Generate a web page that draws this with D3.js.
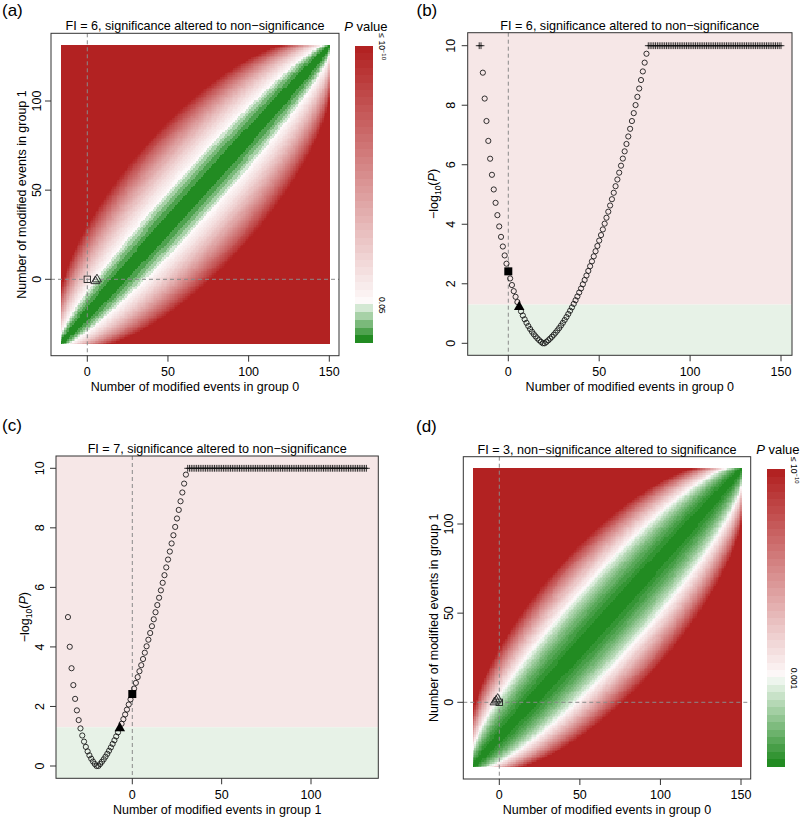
<!DOCTYPE html>
<html><head><meta charset="utf-8">
<script src="https://cdn.jsdelivr.net/npm/d3@7"></script>
<style>body{margin:0;background:#fff} svg{display:block;font-family:"Liberation Sans",Arial,sans-serif}</style>
</head><body><svg id="chart" width="800" height="819"></svg>
<script>
// ---------------- data ----------------
const baseEvents = [16, 36];          // events in group 0, group 1
const groupSizes = [166, 167];        // patients in group 0, group 1
const panelLetters = ["(a)", "(b)", "(c)", "(d)"];
const panelTitles = [
  "FI = 6, significance altered to non\u2212significance",
  "FI = 6, significance altered to non\u2212significance",
  "FI = 7, significance altered to non\u2212significance",
  "FI = 3, non\u2212significance altered to significance"
];
const alphas = [0.05, 0.05, 0.05, 0.001];
const alphaLabels = ["0.05", "0.05", "0.05", "0.001"];
const xTitles = ["Number of modified events in group 0", "Number of modified events in group 0",
                 "Number of modified events in group 1", "Number of modified events in group 0"];
const heatTicksX = [0, 50, 100, 150];
const heatTicksY = [0, 50, 100];
const ticksXB = [0, 50, 100, 150];
const ticksXC = [0, 50, 100];
const logTicks = [0, 2, 4, 6, 8, 10];
const pCap = 10;                                  // -log10(P) shown as <= 10^-10
const heatMarkersA = [[6, 0], [5, -1]];           // open triangles panel (a)
const heatMarkersD = [[-3, 0], [-2, 1], [-1, 2]]; // open triangles panel (d)
const fiPointB = 6, fiPointC = -7;                // filled triangles (b), (c)

// ---------------- Fisher exact test ----------------
const Ntot = groupSizes[0] + groupSizes[1];
const lf = [0]; for (let i = 1; i <= Ntot; i++) lf[i] = lf[i - 1] + Math.log(i);
const lch = (n, k) => lf[n] - lf[k] - lf[n - k];
function fisherP(a, c) {
  const n0 = groupSizes[0], n1 = groupSizes[1], k = a + c;
  const lo = Math.max(0, k - n1), hi = Math.min(n0, k), ln = lch(Ntot, k);
  const lp = x => lch(n0, x) + lch(n1, k - x) - ln;
  const lo_obs = lp(a); let s = 0;
  for (let x = lo; x <= hi; x++) { const l = lp(x); if (l <= lo_obs + 1e-7) s += Math.exp(l); }
  return Math.min(1, s);
}
const negLog = (a, c) => Math.min(pCap, -Math.log10(fisherP(a, c)));

// ---------------- colours ----------------
const RED = "#B22222", GREEN = "#228B22", STEP = 0.25;
const PINK_BG = "rgb(246,231,231)", GREEN_BG = "rgb(231,242,231)";
function heatColor(v, thr) {
  if (v >= thr) {
    const n = Math.round((pCap - thr) / STEP);
    const k = Math.min(n - 1, Math.floor((v - thr) / (pCap - thr) * n));
    return d3.interpolateRgb("#ffffff", RED)((k + 1) / n);
  } else {
    const n = Math.round(thr / STEP);
    const k = Math.min(n - 1, Math.floor((thr - v) / thr * n));
    return d3.interpolateRgb("#ffffff", GREEN)((k + 1) / n);
  }
}

const svg = d3.select("#chart");
const FS = 12.5;

function lin(v0, p0, v1, p1, lo, hi) {
  const s = (p1 - p0) / (v1 - v0);
  const inv = p => v0 + (p - p0) / s;
  return d3.scaleLinear().domain([inv(lo), inv(hi)]).range([lo, hi]);
}

function frame(g, xS, yS, cfg) {
  const [x0, x1] = xS.range(), [y1, y0] = yS.range();
  g.append("rect").attr("x", x0).attr("y", y0).attr("width", x1 - x0).attr("height", y1 - y0)
    .attr("fill", "none").attr("stroke", "#333").attr("stroke-width", 1);
  cfg.xt.forEach(t => {
    g.append("line").attr("x1", xS(t)).attr("x2", xS(t)).attr("y1", y1).attr("y2", y1 + 6).attr("stroke", "#333");
    g.append("text").attr("x", xS(t)).attr("y", y1 + 16).attr("dy", "0.35em").attr("text-anchor", "middle")
      .attr("font-size", FS).text(t);
  });
  cfg.yt.forEach(t => {
    g.append("line").attr("x1", x0 - 6).attr("x2", x0).attr("y1", yS(t)).attr("y2", yS(t)).attr("stroke", "#333");
    g.append("text").attr("transform", `translate(${x0 - cfg.ylo},${yS(t)}) rotate(-90)`)
      .attr("dy", "0.35em").attr("text-anchor", "middle").attr("font-size", FS).text(t);
  });
  g.append("text").attr("x", (x0 + x1) / 2).attr("y", y1 + 31).attr("dy", "0.35em").attr("text-anchor", "middle")
    .attr("font-size", FS).text(cfg.xtitle);
  const yt = g.append("text").attr("transform", `translate(${x0 - cfg.yto},${(y0 + y1) / 2}) rotate(-90)`)
    .attr("dy", "0.35em").attr("text-anchor", "middle").attr("font-size", FS);
  if (cfg.logTitle) {
    yt.append("tspan").text("\u2212log");
    yt.append("tspan").attr("font-size", 8.5).attr("dy", "0.3em").text("10");
    yt.append("tspan").attr("dy", "-0.3em").text("(");
    yt.append("tspan").attr("font-style", "italic").text("P");
    yt.append("tspan").text(")");
  } else yt.text(cfg.ytitle);
  g.append("text").attr("x", (x0 + x1) / 2).attr("y", y0 - 7.5).attr("dy", "0.35em").attr("text-anchor", "middle")
    .attr("font-size", 12.6).text(cfg.title);
}

function heatPanel(idx, xS, yS, cb, markers, lab) {
  const g = svg.append("g");
  const thr = -Math.log10(alphas[idx]);
  const xs = d3.range(-baseEvents[0], groupSizes[0] - baseEvents[0] + 1);
  const ys = d3.range(-baseEvents[1], groupSizes[1] - baseEvents[1] + 1);
  const runs = [];
  ys.forEach(y => {
    let start = xs[0], col = heatColor(negLog(baseEvents[0] + xs[0], baseEvents[1] + y), thr);
    for (let i = 1; i <= xs.length; i++) {
      const c = i < xs.length ? heatColor(negLog(baseEvents[0] + xs[i], baseEvents[1] + y), thr) : null;
      if (c !== col) { runs.push({ a: start, b: xs[i - 1], y, col }); start = xs[i]; col = c; }
    }
  });
  const R = Math.round;
  g.append("g").attr("shape-rendering", "crispEdges").selectAll("rect").data(runs).join("rect")
    .attr("x", d => R(xS(d.a - 0.5))).attr("width", d => R(xS(d.b + 0.5)) - R(xS(d.a - 0.5)))
    .attr("y", d => R(yS(d.y + 0.5))).attr("height", d => R(yS(d.y - 0.5)) - R(yS(d.y + 0.5)))
    .attr("fill", d => d.col);
  const [x0, x1] = xS.range(), [y1, y0] = yS.range();
  g.append("line").attr("x1", xS(0)).attr("x2", xS(0)).attr("y1", y0).attr("y2", y1)
    .attr("stroke", "#8a8a8a").attr("stroke-dasharray", "4,3");
  g.append("line").attr("x1", x0).attr("x2", x1).attr("y1", yS(0)).attr("y2", yS(0))
    .attr("stroke", "#8a8a8a").attr("stroke-dasharray", "4,3");
  g.append("rect").attr("x", xS(0) - 3.2).attr("y", yS(0) - 3.2).attr("width", 6.4).attr("height", 6.4)
    .attr("fill", "none").attr("stroke", "#222").attr("stroke-width", 0.9);
  g.selectAll("path.tri").data(markers).join("path").attr("class", "tri")
    .attr("d", d3.symbol(d3.symbolTriangle, 34)())
    .attr("transform", d => `translate(${xS(d[0])},${yS(d[1])})`)
    .attr("fill", "none").attr("stroke", "#222").attr("stroke-width", 0.9);
  frame(g, xS, yS, { xt: heatTicksX, yt: heatTicksY, ylo: lab.ylo, yto: lab.yto,
    xtitle: xTitles[idx], ytitle: "Number of modified events in group 1", title: panelTitles[idx] });
  // colour bar
  const cS = d3.scaleLinear().domain([0, pCap]).range([cb.y1, cb.y0]);
  const bins = [];
  const nR = Math.round((pCap - thr) / STEP), nG = Math.round(thr / STEP);
  for (let k = 0; k < nR; k++) bins.push({ lo: thr + k * (pCap - thr) / nR, hi: thr + (k + 1) * (pCap - thr) / nR,
    col: d3.interpolateRgb("#ffffff", RED)((k + 1) / nR) });
  for (let k = 0; k < nG; k++) bins.push({ lo: thr - (k + 1) * thr / nG, hi: thr - k * thr / nG,
    col: d3.interpolateRgb("#ffffff", GREEN)((k + 1) / nG) });
  g.append("g").attr("shape-rendering", "crispEdges").selectAll("rect").data(bins).join("rect")
    .attr("x", R(cb.x0)).attr("width", R(cb.x1) - R(cb.x0))
    .attr("y", d => R(cS(d.hi))).attr("height", d => R(cS(d.lo)) - R(cS(d.hi))).attr("fill", d => d.col);
  const pv = g.append("text").attr("x", (cb.x0 + cb.x1) / 2 + 2).attr("y", cb.y0 - 19.5).attr("dy", "0.35em")
    .attr("text-anchor", "middle").attr("font-size", 13);
  pv.append("tspan").attr("font-style", "italic").text("P");
  pv.append("tspan").text(" value");
  const topL = g.append("text").attr("transform", `translate(${cb.x1 + 9},${cS(pCap) + 1}) rotate(90)`)
    .attr("text-anchor", "middle").attr("font-size", 8.5).attr("dy", "0.35em");
  topL.append("tspan").text("\u2264 10");
  topL.append("tspan").attr("font-size", 6).attr("dy", "-0.6em").text("\u221210");
  g.append("text").attr("transform", `translate(${cb.x1 + 9},${cS(thr) + 1}) rotate(90)`)
    .attr("text-anchor", "middle").attr("font-size", 8.5).attr("dy", "0.35em").text(alphaLabels[idx]);
}

function scatterPanel(idx, xS, yS, which, ticksX, fiX, lab) {
  const g = svg.append("g");
  const thr = -Math.log10(alphas[idx]);
  const [x0, x1] = xS.range(), [y1, y0] = yS.range();
  g.append("rect").attr("x", x0).attr("y", y0).attr("width", x1 - x0).attr("height", yS(thr) - y0).attr("fill", PINK_BG);
  g.append("rect").attr("x", x0).attr("y", yS(thr)).attr("width", x1 - x0).attr("height", y1 - yS(thr)).attr("fill", GREEN_BG);
  g.append("line").attr("x1", xS(0)).attr("x2", xS(0)).attr("y1", y0).attr("y2", y1)
    .attr("stroke", "#8a8a8a").attr("stroke-dasharray", "4,3");
  const xs = d3.range(-baseEvents[which], groupSizes[which] - baseEvents[which] + 1);
  const pts = xs.map(x => {
    const raw = which === 0 ? -Math.log10(fisherP(baseEvents[0] + x, baseEvents[1]))
                            : -Math.log10(fisherP(baseEvents[0], baseEvents[1] + x));
    const v = Math.min(pCap, raw);
    const type = x === 0 ? "square" : x === fiX ? "tri" : raw >= pCap ? "plus" : "circle";
    return { x, v, type };
  });
  g.selectAll("circle").data(pts.filter(d => d.type === "circle")).join("circle")
    .attr("cx", d => xS(d.x)).attr("cy", d => yS(d.v)).attr("r", 2.6)
    .attr("fill", "none").attr("stroke", "#111").attr("stroke-width", 0.85);
  g.selectAll("path.plus").data(pts.filter(d => d.type === "plus")).join("path").attr("class", "plus")
    .attr("d", d => `M${xS(d.x) - 3.4},${yS(d.v)}H${xS(d.x) + 3.4}M${xS(d.x)},${yS(d.v) - 3.4}V${yS(d.v) + 3.4}`)
    .attr("stroke", "#111").attr("stroke-width", 0.85);
  pts.filter(d => d.type === "square").forEach(d => g.append("rect").attr("x", xS(d.x) - 4).attr("y", yS(d.v) - 4)
    .attr("width", 8).attr("height", 8).attr("fill", "#000"));
  pts.filter(d => d.type === "tri").forEach(d => g.append("path").attr("d", d3.symbol(d3.symbolTriangle, 48)())
    .attr("transform", `translate(${xS(d.x)},${yS(d.v)})`).attr("fill", "#000"));
  frame(g, xS, yS, { xt: ticksX, yt: logTicks, ylo: lab.ylo, yto: lab.yto, logTitle: true,
    xtitle: xTitles[idx], title: panelTitles[idx] });
}

// panel (a)
heatPanel(0, lin(0, 87.3, 150, 329.3, 51, 339), lin(0, 279.3, 100, 101, 355.7, 33.3),
  { x0: 355, x1: 372.7, y0: 45.7, y1: 343 }, heatMarkersA, { ylo: 14.5, yto: 29.5 });
// panel (b)
scatterPanel(1, lin(0, 508.3, 150, 781, 467.7, 792), lin(0, 343.3, 10, 45.7, 355.3, 32.7), 0, ticksXB, fiPointB,
  { ylo: 17.5, yto: 34 });
// panel (c)
scatterPanel(2, lin(0, 132.3, 100, 311, 56, 378.3), lin(0, 766, 10, 468.3, 778.3, 456), 1, ticksXC, fiPointC,
  { ylo: 16, yto: 31 });
// panel (d)
heatPanel(3, lin(0, 499.3, 150, 741, 463.3, 750.7), lin(0, 702.3, 100, 524, 779, 456.7),
  { x0: 766.7, x1: 785, y0: 469.3, y1: 766.7 }, heatMarkersD, { ylo: 15, yto: 30 });

// panel letters
const letterPos = [[2, 10], [416.5, 10], [2, 425], [416, 426]];
panelLetters.forEach((l, i) => svg.append("text").attr("x", letterPos[i][0]).attr("y", letterPos[i][1])
  .attr("dy", "0.35em").attr("font-size", 17).text(l));
</script></body></html>
